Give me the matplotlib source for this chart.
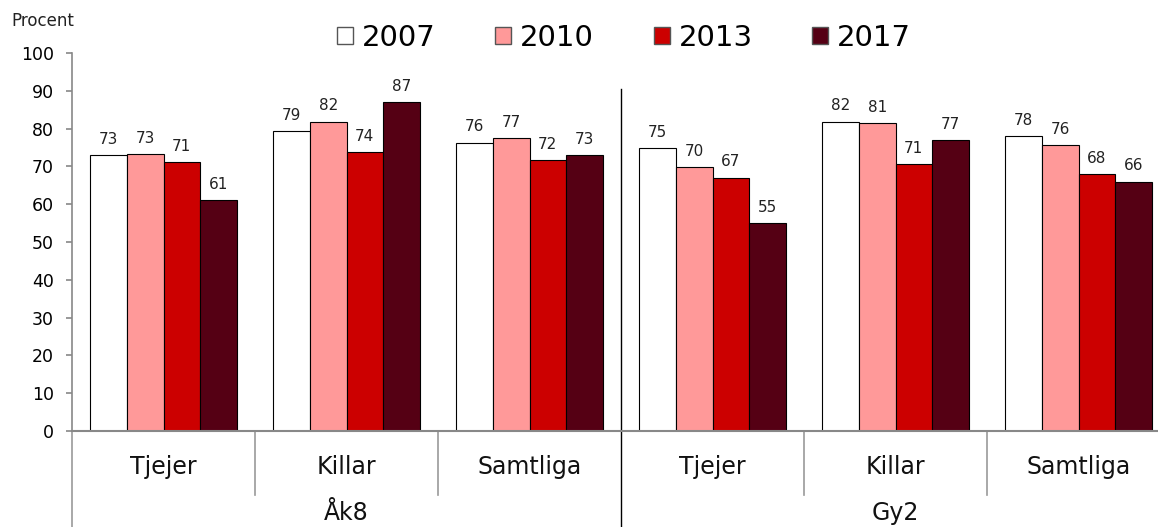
import numpy as np
import matplotlib
matplotlib.use("Agg")
import matplotlib.pyplot as plt
from matplotlib.patches import Patch
import matplotlib.transforms as mtransforms

# ---- data ----
years = ["2007", "2010", "2013", "2017"]
groups = ["Åk8", "Gy2"]
categories = ["Tjejer", "Killar", "Samtliga", "Tjejer", "Killar", "Samtliga"]
v2007 = [73.0, 79.3, 76.3, 74.8, 81.8, 78.0]
v2010 = [73.3, 81.8, 77.4, 69.8, 81.4, 75.6]
v2013 = [71.1, 73.7, 71.6, 67.0, 70.6, 68.0]
v2017 = [61.0, 87.0, 73.0, 55.0, 77.0, 66.0]
yticks = list(range(0, 101, 10))

series = [v2007, v2010, v2013, v2017]
colors = ["#FFFFFF", "#FF9999", "#CC0000", "#550014"]

W, H = 1158, 527
fig = plt.figure(figsize=(W / 100, H / 100), dpi=100)
ax = fig.add_axes([72 / W, 1 - 431 / H, 1098 / W, 378 / H])

n_cat = len(categories)
x = np.arange(n_cat)
bw = 0.2
for i, (vals, c) in enumerate(zip(series, colors)):
    pos = x + 0.1 + bw * i + bw / 2
    ax.bar(pos, vals, width=bw, color=c, edgecolor="black", linewidth=0.8, label=years[i])
    for p, v in zip(pos, vals):
        ax.text(p, v + 3.0, f"{round(v):d}", ha="center", va="baseline", fontsize=11, color="#222222")

ax.set_xlim(0, n_cat)
ax.set_ylim(0, 100)
ax.set_yticks(yticks)
ax.set_xticks([])
ax.tick_params(axis="y", direction="out", length=4, width=1.2, color="#888888", labelsize=12.5, pad=9)
for s in ["top", "right"]:
    ax.spines[s].set_visible(False)
ax.spines["left"].set_color("#888888")
ax.spines["bottom"].set_color("#888888")
ax.spines["left"].set_linewidth(1.2)
ax.spines["bottom"].set_linewidth(1.5)

trans = mtransforms.blended_transform_factory(ax.transData, ax.transAxes)
# category separators below axis
for b in range(1, n_cat):
    if b == 3:
        continue
    ax.plot([b, b], [0, -(495 - 431) / 378], transform=trans, color="#999999", lw=1.2, clip_on=False)
ax.plot([0, 0], [0, -0.26], transform=trans, color="#999999", lw=1.2, clip_on=False)
# group separator
ax.plot([3, 3], [(431 - 89) / 378, -0.26], transform=trans, color="black", lw=1.0, clip_on=False)

for i, cat in enumerate(categories):
    ax.text(i + 0.5, -(474 - 431) / 378, cat, transform=trans, ha="center", va="baseline",
            fontsize=17, color="#111111")
for g, name in enumerate(groups):
    ax.text(g * 3 + 1.5, -(520 - 431) / 378, name, transform=trans, ha="center", va="baseline",
            fontsize=17, color="#111111")

fig.text(11 / W, 1 - 26 / H, "Procent", fontsize=12, va="baseline", ha="left", color="#222222")

handles = [Patch(facecolor=c, edgecolor="#555555", linewidth=1.0) for c in colors]
fig.legend(handles, years, loc="center", bbox_to_anchor=(624 / W, 1 - 38 / H), ncol=4,
           frameon=False, fontsize=21, handlelength=0.55, handleheight=0.55, handletextpad=0.3,
           columnspacing=2.05, borderpad=0, borderaxespad=0)

fig.savefig("out.png", dpi=100)
